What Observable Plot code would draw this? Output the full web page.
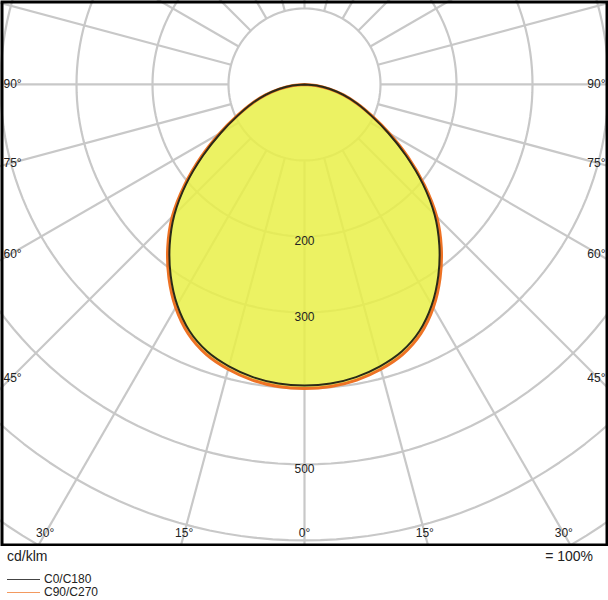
<!DOCTYPE html>
<html>
<head>
<meta charset="utf-8">
<script src="https://cdn.jsdelivr.net/npm/d3@7"></script>
<script src="https://cdn.jsdelivr.net/npm/@observablehq/plot@0.6"></script>
<style>
  html, body { margin: 0; padding: 0; background: #fff; }
  body { width: 608px; height: 600px; position: relative; overflow: hidden; font-family: "Liberation Sans", Arial, sans-serif; color: #222; }
  #chart svg { display: block; }
  .foot { position: absolute; font-size: 14px; line-height: 14px; }
  .leg { position: absolute; left: 7px; font-size: 12px; line-height: 11px; height: 11px; display: flex; align-items: center; }
  .leg span.sw { display: inline-block; width: 33px; height: 0; border-top: 1px solid; margin-right: 4px; }
</style>
</head>
<body>
<div id="chart"></div>
<div class="foot" style="left:7px; top:549px;">cd/klm</div>
<div class="foot" style="right:15px; top:549px;">= 100%</div>
<div class="leg" style="top:574px;"><span class="sw" style="border-color:#444"></span>C0/C180</div>
<div class="leg" style="top:587px;"><span class="sw" style="border-color:#f39a60"></span>C90/C270</div>
<script>
// ---- data (cd/klm) ----
const gammaDeg = [0, 5, 10, 15, 20, 25, 30, 35, 40, 45, 50, 55, 60, 65, 70, 75, 80, 85, 90];
const c0c180   = [396, 395, 391, 384, 374, 358, 335, 307, 276, 242, 203, 163, 127, 97, 74, 53, 34, 16, 0];
const c90c270  = [400, 399, 395, 388, 378, 362, 339, 311, 280, 246, 206, 166, 129, 98, 74, 53, 33, 15, 0];
const ringValues = [100, 200, 300, 400, 500, 600, 700];
const ringLabels = [200, 300, 500];
const spokeAngles = d3.range(0, 360, 15);
const sideAngles = [90, 75, 60, 45];
const bottomAngles = [-30, -15, 0, 15, 30];

// ---- geometry helpers ----
const rad = d => d * Math.PI / 180;
const W = 608, H = 546;
const xDomain = [-400, 400];
const yDomain = [-110.5, 608];
const labelY = 591;     // where bottom angle labels sit (cd units)
const sideRef = 387;    // spoke/label reference distance for side labels (cd units)

function halfCurve(values, name) {
  const left = gammaDeg.map((g, i) => ({g: -g, I: values[i]})).reverse();
  const right = gammaDeg.slice(1).map((g, i) => ({g, I: values[i + 1]}));
  return left.concat(right).map(d => ({
    series: name,
    x: d.I * Math.sin(rad(d.g)),
    y: d.I * Math.cos(rad(d.g))
  }));
}
const curveBlack = halfCurve(c0c180, "C0/C180");
const curveOrange = halfCurve(c90c270, "C90/C270");

const ringPts = ringValues.flatMap(r =>
  d3.range(0, 361, 2).map(a => ({r, x: r * Math.sin(rad(a)), y: r * Math.cos(rad(a))}))
);
const spokes = spokeAngles.map(a => ({
  x1: 100 * Math.sin(rad(a)), y1: 100 * Math.cos(rad(a)),
  x2: 900 * Math.sin(rad(a)), y2: 900 * Math.cos(rad(a))
}));
const sideLeft = sideAngles.map(a => ({x: xDomain[0], y: sideRef * Math.cos(rad(a)) / Math.sin(rad(a)), t: a + "°"}));
const sideRight = sideAngles.map(a => ({x: xDomain[1], y: sideRef * Math.cos(rad(a)) / Math.sin(rad(a)), t: a + "°"}));
const bottomLbl = bottomAngles.map(a => ({x: labelY * Math.tan(rad(a)), y: labelY, t: Math.abs(a) + "°"}));
const ringLbl = ringLabels.map(v => ({x: 0, y: v, t: String(v)}));

const grid = "#c8c8c8";
const chart = Plot.plot({
  width: W, height: H, margin: 0,
  style: {fontFamily: "'Liberation Sans', Arial, sans-serif", fontSize: "12px", background: "#fff", color: "#222"},
  x: {domain: xDomain, axis: null},
  y: {domain: yDomain, range: [0, H], axis: null},
  marks: [
    Plot.line(ringPts, {x: "x", y: "y", z: "r", stroke: grid, strokeWidth: 2.2, clip: true}),
    Plot.link(spokes, {x1: "x1", y1: "y1", x2: "x2", y2: "y2", stroke: grid, strokeWidth: 2.2, clip: true}),
    Plot.line(curveOrange, {x: "x", y: "y", fill: "#e9f048", fillOpacity: 0.85, stroke: "none", curve: "catmull-rom"}),
    Plot.line(curveOrange, {x: "x", y: "y", stroke: "#ee7224", strokeWidth: 3, curve: "catmull-rom"}),
    Plot.line(curveBlack, {x: "x", y: "y", stroke: "#2a2a18", strokeWidth: 2, curve: "catmull-rom"}),
    Plot.text(ringLbl, {x: "x", y: "y", text: "t", dy: 5, fill: "#222"}),
    Plot.text(sideLeft, {x: "x", y: "y", text: "t", textAnchor: "start", dx: 3, fill: "#222"}),
    Plot.text(sideRight, {x: "x", y: "y", text: "t", textAnchor: "end", dx: -3, fill: "#222"}),
    Plot.text(bottomLbl, {x: "x", y: "y", text: "t", fill: "#222"}),
    Plot.frame({stroke: "#000", strokeWidth: 3, inset: 1.5})
  ]
});
document.getElementById("chart").appendChild(chart);
</script>
</body>
</html>
